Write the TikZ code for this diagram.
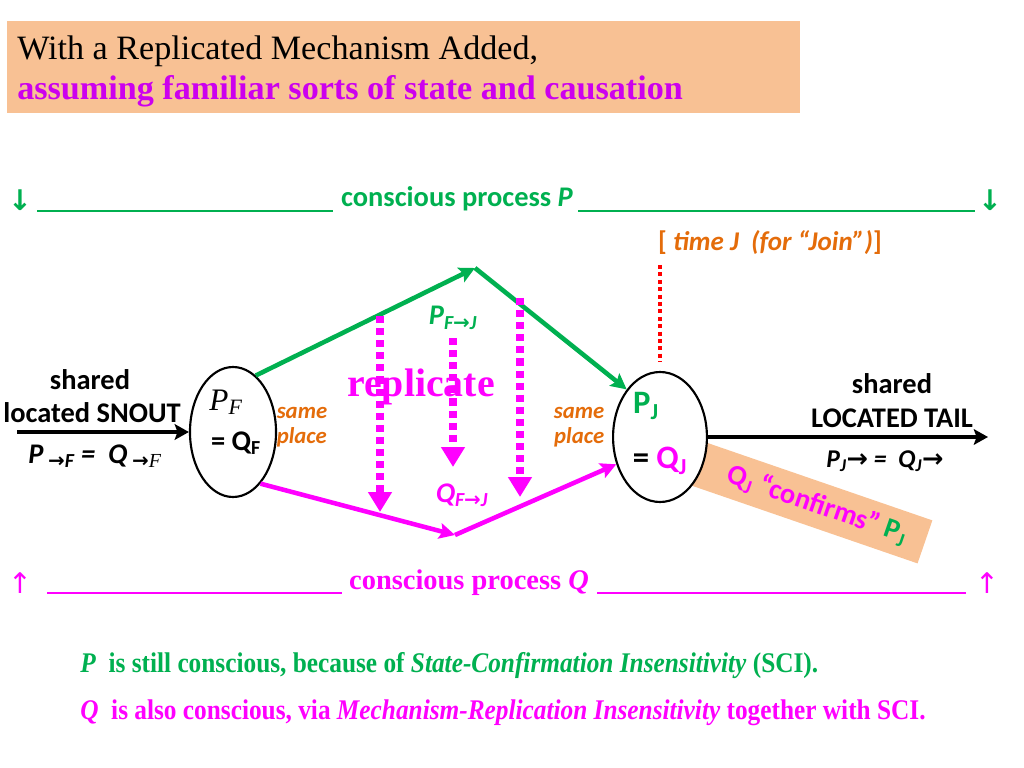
\documentclass[tikz,border=0pt]{standalone}
\usepackage{fontspec}
\setmainfont{Liberation Serif}
\newfontfamily\tnrnarrow{Liberation Serif}[FakeStretch=0.89]
\newfontfamily\calib{Carlito}
\newfontfamily\dvsans{DejaVu Sans}
\usetikzlibrary{arrows.meta,shapes.geometric}

\definecolor{pgreen}{RGB}{0,176,80}
\definecolor{qmag}{RGB}{255,0,255}
\definecolor{ttlpurple}{RGB}{204,0,238}
\definecolor{sorange}{RGB}{228,108,10}
\definecolor{peach}{RGB}{248,193,148}
\definecolor{dotred}{RGB}{255,0,0}

\newcommand{\rarr}{{\dvsans\bfseries →}}
\newcommand{\fsz}[1]{\fontsize{#1}{#1}\selectfont}

\tikzset{
  blob/.style={draw,ellipse,line width=1.5pt,fill=white,inner sep=0pt,minimum height=91.4pt},
  calb/.style={font=\calib\bfseries\fsz{20}},
  calbi/.style={font=\calib\bfseries\itshape\fsz{18}},
  thickarr/.style={line width=3.5pt,-{Stealth[length=10pt,width=11pt,inset=2pt]}},
  gpath/.style={pgreen,line width=3.2pt,-{Stealth[length=11pt,width=11pt,inset=2pt]}},
  mpath/.style={qmag,line width=3.2pt,-{Stealth[length=11pt,width=11pt,inset=2pt]}},
  repl/.style={qmag,line width=5pt,dash pattern=on 5pt off 3.5pt,-{Triangle[length=14pt,width=16pt]}},
  rule/.style={line width=2pt}
}

\begin{document}
\begin{tikzpicture}[x=0.703125pt,y=-0.703125pt,inner sep=0pt]
  \useasboundingbox (0,0) rectangle (1024,768);

  % title box
  \fill[peach] (7,21) rectangle (800,113);
  \node[anchor=base west,font=\rmfamily\mdseries\fsz{24}] (ttla) at (17,60) {With a Replicated Mechanism Added,};
  \node[anchor=base west,text=ttlpurple,font=\rmfamily\bfseries\fsz{24}] (ttlb) at (17,100) {assuming familiar sorts of state and causation};

  % process P line
  \node[text=pgreen,font=\dvsans\bfseries\fsz{20}] (pdna) at (20,200) {↓};
  \node[text=pgreen,font=\calib\bfseries\fsz{20}] (ptxt) at (457,199) {conscious process \textit{P}};
  \node[text=pgreen,font=\dvsans\bfseries\fsz{20}] (pdnb) at (990,200) {↓};
  \draw[pgreen,rule] (37,211) -- (333,211);
  \draw[pgreen,rule] (578,211) -- (975,211);
  \node[calb,text=sorange,font=\calib\bfseries\fsz{19}] (timej) at (770,243) {[ \textit{time J\ \ (for “Join”)}]};

  % red dotted time mark
  \coordinate (jtop) at (660,265);
  \coordinate (jbot) at (660,362);
  \draw[dotred,line width=3pt,dash pattern=on 2.8pt off 2.4pt] (jtop) -- (jbot);

  % confirms box (under the ellipse)
  \node[fill=peach,rotate=-19,minimum width=168pt,minimum height=32pt,calb] (conf) at (812,503)
    {\hspace*{8pt}\textcolor{qmag}{Q\textsubscript{J} “confirms”} \textcolor{pgreen}{P\textsubscript{J}}};

  % the two ellipses
  \node[blob,minimum width=60.5pt] (pf) at (233,432) {};
  \node[blob,minimum width=66pt] (pj) at (660,437) {};
  \node[font=\itshape\fsz{22}] (pflab) at (226,402) {P\textsubscript{F}};
  \node[calb] (qflab) at (236,443) {= Q\textsubscript{F}};
  \node[calb,text=pgreen,font=\calib\bfseries\fsz{23}] (pjlab) at (646,406) {P\textsubscript{J}};
  \node[calb,font=\calib\bfseries\fsz{23}] (qjlab) at (660,461) {= \textcolor{qmag}{Q\textsubscript{J}}};

  % snout and tail
  \coordinate (snout) at (17,432);
  \coordinate (tail) at (988,437);
  \draw[thickarr] (snout) -- (pf.west);
  \draw[thickarr] (pj.east) -- (tail);
  \node[calb] (shl) at (90,380) {shared};
  \node[calb] (snl) at (92,413) {located SNOUT};
  \node[calbi,font=\calib\bfseries\itshape\fsz{20}] (snf) at (95,456) {P\,\textsubscript{\rarr F}\ = \ Q\,\textsubscript{\rarr\normalfont\itshape F}};
  \node[calb] (shr) at (892,384) {shared};
  \node[calb] (tll) at (892,418) {LOCATED TAIL};
  \node[calbi] (tlf) at (885,461) {P\textsubscript{J}\rarr\ = \ Q\textsubscript{J}\rarr};

  % same place labels
  \node[calbi,text=sorange,font=\calib\bfseries\itshape\fsz{16},align=left] (spl) at (302,427) {same\\[2pt]place};
  \node[calbi,text=sorange,font=\calib\bfseries\itshape\fsz{16},align=right] (spr) at (579,427) {same\\[2pt]place};

  % P and Q paths
  \coordinate (gtop) at (475,268);
  \coordinate (mbot) at (455,535);
  \draw[gpath] (pf.68) -- (gtop);
  \draw[gpath] (gtop) -- (pj.125);
  \draw[mpath] (pf.-62) -- (mbot);
  \draw[mpath] (mbot) -- (pj.-148);
  \node[calbi,text=pgreen,font=\calib\bfseries\itshape\fsz{20}] (pfj) at (453,318) {P\textsubscript{F\rarr J}};
  \node[calbi,text=qmag,font=\calib\bfseries\itshape\fsz{20}] (qfj) at (462,495) {Q\textsubscript{F\rarr J}};

  % replication
  \node[text=qmag,font=\bfseries\fsz{28}] (rlab) at (421,387) {replicate};
  \foreach \x/\ya/\yb in {380/316/512, 453/338/467, 520/298/497} {
    \coordinate (rt\x) at (\x,\ya);
    \coordinate (rb\x) at (\x,\yb);
    \draw[repl] (rt\x) -- (rb\x);
  }

  % process Q line
  \node[text=qmag,font=\dvsans\fsz{20}] (qupa) at (20,583) {↑};
  \node[text=qmag,font=\bfseries\fsz{20}] (qtxt) at (469,583) {conscious process \textit{Q}};
  \node[text=qmag,font=\dvsans\fsz{20}] (qupb) at (987,583) {↑};
  \draw[qmag,rule] (47,593) -- (342,593);
  \draw[qmag,rule] (597,593) -- (966,593);

  % conclusions
  \node[anchor=base west,text=pgreen,font=\tnrnarrow\bfseries\fsz{20}] (cona) at (80,672)
    {\textit{P}\ \ is still conscious, because of \textit{State-Confirmation Insensitivity} (SCI).};
  \node[anchor=base west,text=qmag,font=\tnrnarrow\bfseries\fsz{20}] (conb) at (80,719)
    {\textit{Q}\ \ is also conscious, via \textit{Mechanism-Replication Insensitivity} together with SCI.};
\end{tikzpicture}
\end{document}
